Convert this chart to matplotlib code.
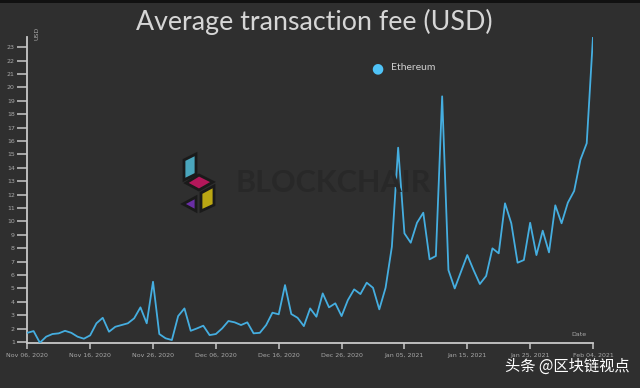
import matplotlib
matplotlib.use("Agg")
import matplotlib.pyplot as plt
import matplotlib.dates as mdates
from matplotlib.patches import Polygon, Rectangle
import pandas as pd

# ---- data ----
start_date = "2020-11-06"
fee_usd = [
    1.69, 1.82, 0.95, 1.40, 1.60, 1.65, 1.84, 1.69, 1.40, 1.25,
    1.50, 2.40, 2.81, 1.77, 2.14, 2.27, 2.40, 2.77, 3.59, 2.40,
    5.50, 1.60, 1.28, 1.15, 2.94, 3.51, 1.84, 2.02, 2.22, 1.52,
    1.60, 2.02, 2.57, 2.47, 2.27, 2.47, 1.65, 1.69, 2.27, 3.19,
    3.07, 5.25, 3.09, 2.81, 2.19, 3.51, 2.89, 4.63, 3.59, 3.89,
    2.94, 4.13, 4.93, 4.58, 5.43, 5.05, 3.44, 5.05, 8.11, 15.50,
    9.11, 8.41, 9.90, 10.65, 7.17, 7.42, 19.33, 6.37, 5.00, 6.25,
    7.49, 6.37, 5.33, 5.93, 7.99, 7.62, 11.35, 9.86, 6.92, 7.12,
    9.90, 7.49, 9.31, 7.69, 11.20, 9.86, 11.40, 12.27, 14.60, 15.83,
    23.78,
]
dates = pd.date_range(start_date, periods=len(fee_usd), freq="D")
tick_dates = pd.date_range(start_date, periods=10, freq="10D")
y_ticks = list(range(1, 24))
series_name = "Ethereum"
title = "Average transaction fee (USD)"

BG = "#2f2f2f"
AXC = "#c8c8c8"
LBL = "#a8a8a8"
LINE = "#45aee0"

fig = plt.figure(figsize=(6.4, 3.88), dpi=100, facecolor=BG)
ax = fig.add_axes([27.3 / 640, 1 - 343 / 388, (593 - 27.3) / 640, (343 - 36.7) / 388])
ax.set_facecolor(BG)

# watermark logo (Blockchair) in figure pixel coordinates
def fpoly(pts, fc, ec="#1a1a1a", lw=2.0, z=0):
    poly = Polygon([(x / 640, 1 - y / 388) for x, y in pts], closed=True,
                   transform=fig.transFigure, facecolor=fc, edgecolor=ec,
                   linewidth=lw, zorder=z)
    fig.patches.append(poly)

fpoly([(184, 160), (196, 154), (196, 174), (184, 180)], "#4aa6bd")
fpoly([(186, 183), (199, 175), (213, 182), (199, 190)], "#b3175a")
fpoly([(201, 193), (214, 186), (214, 205), (201, 211)], "#bba713")
fpoly([(183, 204), (196, 197), (196, 211)], "#6a2ea5")
fig.text(236 / 640, 1 - 183 / 388, "BLOCKCHAIR", color="#282828", fontsize=22,
         fontweight="bold", family="Lato", va="center", ha="left", zorder=0)

ax.plot(dates, fee_usd, color=LINE, linewidth=1.3, zorder=3)

ax.set_xlim(dates[0], dates[-1])
ax.set_ylim(min(fee_usd) - 0.02, max(fee_usd))

for s in ["top", "right"]:
    ax.spines[s].set_visible(False)
for s in ["left", "bottom"]:
    ax.spines[s].set_color(AXC)
    ax.spines[s].set_linewidth(1.3)

ax.set_yticks(y_ticks)
ax.set_yticklabels([str(v) for v in y_ticks])
ax.tick_params(axis="y", colors=AXC, length=7, width=1.1, pad=2,
               labelsize=4.5, labelcolor=LBL)
ax.set_xticks(tick_dates)
ax.xaxis.set_major_formatter(mdates.DateFormatter("%b %d, %Y"))
ax.tick_params(axis="x", colors=AXC, length=4, width=1.1, pad=3,
               labelsize=4.5, labelcolor=LBL)

fig.text(37 / 640, 1 - 33 / 388, "USD", rotation=90, color=LBL, fontsize=4.5,
         ha="center", va="center")
fig.text(579 / 640, 1 - 335 / 388, "Date", color=LBL, fontsize=4.5,
         ha="center", va="center")

fig.text(314 / 640, 1 - 22 / 388, title, color="#d6d6d6", fontsize=19.3,
         family="Lato", ha="center", va="center")

# legend
fig.text(377 / 640, 1 - 68 / 388, "\u25CF", color="#4fc3f7", fontsize=10,
         ha="center", va="center", family="DejaVu Sans")
fig.text(391 / 640, 1 - 68 / 388, series_name, color="#cfcfcf", fontsize=7.5,
         family="Lato", ha="left", va="center")

# top dark strip
fig.patches.append(Rectangle((0, 1 - 3 / 388), 1, 3 / 388, transform=fig.transFigure,
                             facecolor="#111111", edgecolor="none"))

fig.text(630 / 640, 1 - 366 / 388, "头条 @区块链视点", color="#ffffff", fontsize=11,
         family=["Noto Sans CJK SC", "DejaVu Sans"], ha="right", va="center")

fig.savefig("out.png", dpi=100, facecolor=BG)
